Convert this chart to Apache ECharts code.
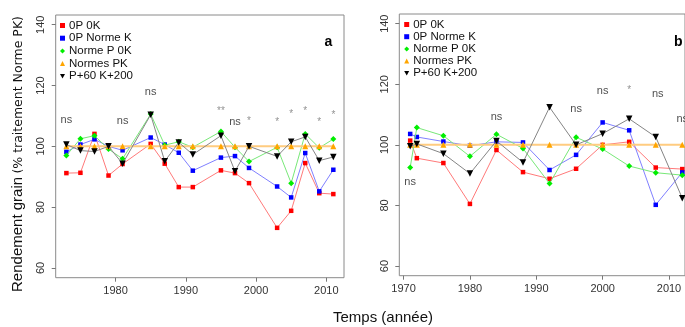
<!DOCTYPE html>
<html><head><meta charset="utf-8">
<script src="https://cdn.jsdelivr.net/npm/echarts@6/dist/echarts.min.js"></script>
<style>html,body{margin:0;padding:0;background:#fff}#c{width:685px;height:327px}</style>
</head><body><div id="c"></div><script>
// ---- Panel a data ----
const yearsA = [1973,1975,1977,1979,1981,1985,1987,1989,1991,1995,1997,1999,2003,2005,2007,2009,2011];
const redA   = [91.2,91.3,104.1,90.4,94.2,100.8,94.3,86.6,86.6,92.1,91.2,87.9,73.2,78.8,94.5,84.6,84.3];
const blueA  = [98.2,100.6,102.3,100.0,98.7,102.9,100.6,97.9,92.0,96.3,96.8,92.9,86.8,83.2,97.8,85.2,92.3];
const greenA = [97.0,102.5,103.5,99.1,95.9,110.6,100.4,101.5,99.7,104.9,99.7,95.0,99.7,87.9,104.1,99.5,102.4];
const orangeA= [100,100,100,100,100,100,100,100,100,100,100,100,100,100,100,100,100];
const blackA = [100.6,98.6,98.3,100.0,94.3,110.4,95.1,101.3,97.3,103.5,91.8,100.0,96.7,101.5,103.1,95.3,96.5];
const annoA  = [[1973,108.8,'ns'],[1981,108.5,'ns'],[1985,117.9,'ns'],[1995,111.6,'**'],[1997,108,'ns'],
                [1999,108.2,'*'],[2003,107.8,'*'],[2005,110.6,'*'],[2007,111.7,'*'],[2009,107.8,'*'],[2011,110.1,'*']];
// ---- Panel b data ----
const yearsB = [1971,1972,1976,1980,1984,1988,1992,1996,2000,2004,2008,2012];
const redB   = [101.4,95.6,94.0,80.5,98.3,91.0,88.8,92.1,100.0,101.0,92.5,92.0];
const blueB  = [103.6,102.6,101.1,99.7,101.0,100.8,91.7,96.7,107.4,104.8,80.2,90.9];
const greenB = [92.5,105.7,103.0,96.2,103.5,98.8,87.2,102.5,98.6,93.0,90.8,90.0];
const orangeB= [100,100,100,100,100,100,100,100,100,100,100,100];
const blackB = [99.5,100.3,97.1,90.5,101.3,94.2,112.4,100.0,103.7,108.6,102.6,82.4];
const annoB  = [[1971,87.6,'ns'],[1984,109.2,'ns'],[1996,111.8,'ns'],[2000,117.8,'ns'],[2004,117.9,'*'],[2008.3,116.7,'ns'],[2012,108.5,'ns']];
// ---- ticks / names ----
const xTicksA = [1980,1990,2000,2010];
const xTicksB = [1970,1980,1990,2000,2010];
const yTicks  = [60,80,100,120,140];
const names = ['0P 0K','0P Norme K','Norme P 0K','Normes PK','P+60 K+200'];

const FONT = 'Liberation Sans, Arial, sans-serif';
const styles = [
  {sym:'rect', rot:0, size:4.5, col:'#ff0000', line:'#ff7a7a', lw:1},
  {sym:'rect', rot:0, size:4.5, col:'#0000ff', line:'#8080ff', lw:1},
  {sym:'diamond', rot:0, size:6, col:'#00ee00', line:'#78e878', lw:1},
  {sym:'triangle', rot:0, size:6, col:'#ffa500', line:'#ffcc80', lw:2},
  {sym:'triangle', rot:180, size:6.5, col:'#000000', line:'#858585', lw:1}
];
const legendIcons = ['rect','rect','diamond','triangle','path://M0,0L10,0L5,9Z'];

function pairs(xs, ys){ return xs.map((x,i)=>[x, ys[i]]); }
function mk(i, xs, ys, gi){
  const s = styles[i];
  return {name:names[i], type:'line', xAxisIndex:gi, yAxisIndex:gi, data:pairs(xs,ys),
    symbol:s.sym, symbolRotate:s.rot, symbolSize:s.size, showSymbol:true,
    itemStyle:{color:s.col}, lineStyle:{color:s.line, width:s.lw}, z:2+i, clip:false};
}
function annoStyled(arr, gi){
  return {type:'scatter', xAxisIndex:gi, yAxisIndex:gi, symbolSize:0.1,
    itemStyle:{color:'rgba(0,0,0,0)'}, silent:true, z:10,
    label:{show:true, position:'inside', fontFamily:FONT, formatter:p=>p.value[2], fontSize:11, color:'#333'},
    data:arr.map(a=>({value:a, label: a[2]==='ns' ? {fontSize:11,color:'#222'} : {fontSize:10,color:'#777'}}))};
}
function xAx(gi, min, max, ticks){
  return {gridIndex:gi, type:'value', min:min, max:max, splitLine:{show:false},
    axisLine:{show:false}, axisTick:{show:true, length:4, lineStyle:{color:'#777'}, customValues:ticks},
    axisLabel:{customValues:ticks, formatter:v=>String(v), fontSize:11, color:'#333', margin:8, fontFamily:FONT}};
}
function yAx(gi){
  return {gridIndex:gi, type:'value', min:56.8, max:143.2, splitLine:{show:false},
    axisLine:{show:false}, axisTick:{show:true, length:4, lineStyle:{color:'#777'}, customValues:yTicks},
    axisLabel:{customValues:yTicks, formatter:v=>String(v), rotate:90, fontSize:11, color:'#333', margin:9, fontFamily:FONT}};
}
function leg(left, top, gap){
  return {orient:'vertical', left:left, top:top, itemWidth:5, itemHeight:5, itemGap:gap,
    selectedMode:false, padding:0,
    textStyle:{fontSize:11.5, lineHeight:11, color:'#111', fontFamily:FONT, padding:[0,0,0,-1]},
    data:names.map((n,i)=>({name:n, icon:legendIcons[i]}))};
}

const chart = echarts.init(document.getElementById('c'), null, {renderer:'canvas'});
const series = [];
[[redA,0],[blueA,1],[greenA,2],[orangeA,3],[blackA,4]].forEach(([v,i])=>series.push(mk(i, yearsA, v, 0)));
[[redB,0],[blueB,1],[greenB,2],[orangeB,3],[blackB,4]].forEach(([v,i])=>series.push(mk(i, yearsB, v, 1)));
series.push(annoStyled(annoA,0), annoStyled(annoB,1));

chart.setOption({
  animation:false,
  backgroundColor:'#ffffff',
  textStyle:{fontFamily:FONT},
  grid:[
    {left:55.7, top:15, width:288.3, height:262.7, show:true, borderColor:'#8a8a8a', borderWidth:1, backgroundColor:'transparent'},
    {left:399.3, top:14, width:286.7, height:261.7, show:true, borderColor:'#8a8a8a', borderWidth:1, backgroundColor:'transparent'}
  ],
  xAxis:[xAx(0,1971.48,2012.52,xTicksA), xAx(1,1969.36,2012.41,xTicksB)],
  yAxis:[yAx(0), yAx(1)],
  legend:[leg(60, 19.5, 0.7), leg(404.2, 18.5, 0.2)],
  series:series,
  graphic:[
    {type:'text', x:328.3, y:42.3, style:{text:'a', font:'bold 14px '+FONT, fill:'#000', align:'center', verticalAlign:'middle'}},
    {type:'text', x:678.3, y:41.7, style:{text:'b', font:'bold 14px '+FONT, fill:'#000', align:'center', verticalAlign:'middle'}},
    {type:'text', x:383, y:318, style:{text:'Temps (année)', font:'15px '+FONT, fill:'#111', align:'center', verticalAlign:'middle'}},
    {type:'text', x:17, y:154, rotation:Math.PI/2,
      style:{text:'{a|Rendement grain} {b|(% traitement Norme PK)}', align:'center', verticalAlign:'middle', fill:'#111',
        rich:{a:{fontSize:15, fontFamily:FONT, fill:'#111', verticalAlign:'bottom', lineHeight:17},
              b:{fontSize:12.5, fontFamily:'DejaVu Sans, sans-serif', fill:'#111', verticalAlign:'bottom', lineHeight:17}}}}
  ]
});
</script></body></html>
